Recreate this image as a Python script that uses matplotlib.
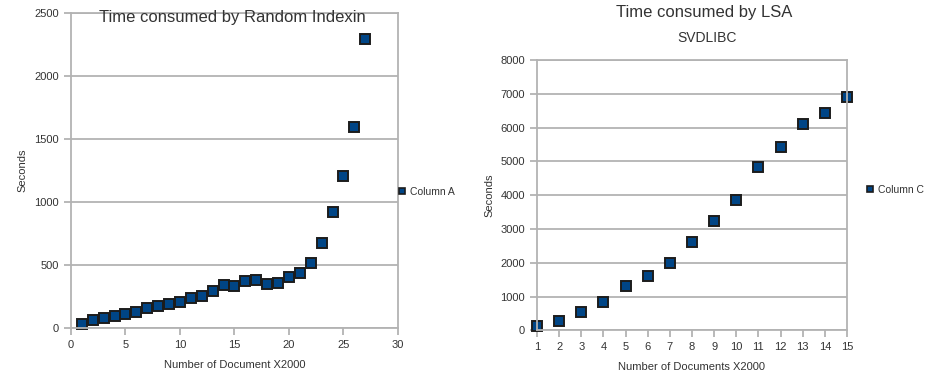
import matplotlib

matplotlib.use("Agg")
import matplotlib.pyplot as plt
from matplotlib.lines import Line2D

plt.rcParams["font.family"] = ["Liberation Sans", "DejaVu Sans"]

# Datos.
ri_docs = list(range(1, 28))
ri_secs = [29, 61, 77, 98, 114, 130, 156, 172, 190, 209, 235, 257, 294, 341,
           336, 373, 381, 352, 360, 405, 439, 513, 672, 918, 1206, 1593, 2291]

lsa_docs = list(range(1, 16))
lsa_secs = [138, 276, 552, 828, 1310, 1626, 2000, 2630, 3241, 3862, 4828,
            5438, 6108, 6433, 6916]

GRID = "#b3b3b3"
TEXT = "#333333"
FACE = "#004586"
EDGE = "#1c1c1c"


def style_axes(ax):
    for s in ax.spines.values():
        s.set_color(GRID)
        s.set_linewidth(1.3)
    ax.grid(axis="y", color=GRID, linewidth=1.3)
    ax.set_axisbelow(True)
    ax.tick_params(colors=GRID, labelcolor=TEXT, labelsize=8, length=5,
                   width=1.3, direction="out")


fig = plt.figure(figsize=(9.29, 3.78), dpi=100)

# 1. Random Indexing.
ax1 = fig.add_axes([0.0764, 0.1323, 0.352, 0.8333])
ax1.plot(ri_docs, ri_secs, "s", ms=7, mfc=FACE, mec=EDGE, mew=1.4,
         clip_on=False)
ax1.set_xlim(0, 30)
ax1.set_ylim(0, 2500)
ax1.set_xticks(range(0, 31, 5))
ax1.set_yticks(range(0, 2501, 500))
style_axes(ax1)
ax1.set_xlabel("Number of Document X2000", fontsize=8, color=TEXT, labelpad=7)
ax1.set_ylabel("Seconds", fontsize=8, color=TEXT, labelpad=5)
fig.text(232 / 929, 1 - 17.5 / 378, "Time consumed by Random Indexin",
         ha="center", va="center", fontsize=12, color=TEXT)

# 2. LSA (SVDLIBC).
ax2 = fig.add_axes([0.578, 0.1257, 0.3337, 0.7156])
ax2.plot(lsa_docs, lsa_secs, "s", ms=7, mfc=FACE, mec=EDGE, mew=1.4,
         clip_on=False)
ax2.set_xlim(1, 15)
ax2.set_ylim(0, 8000)
ax2.set_xticks(lsa_docs)
ax2.set_yticks(range(0, 8001, 1000))
style_axes(ax2)
ax2.set_xlabel("Number of Documents X2000", fontsize=8, color=TEXT, labelpad=7)
ax2.set_ylabel("Seconds", fontsize=8, color=TEXT, labelpad=4)
fig.text(704 / 929, 1 - 12 / 378, "Time consumed by LSA", ha="center",
         va="center", fontsize=12, color=TEXT)
fig.text(707 / 929, 1 - 38 / 378, "SVDLIBC", ha="center", va="center",
         fontsize=10, color=TEXT)

# Leyendas a la derecha de cada grafico.
for name, x, y in [("Column A", 398, 192), ("Column C", 866, 190)]:
    h = Line2D([], [], ls="none", marker="s", ms=5, mfc=FACE, mec=EDGE, mew=1.2)
    fig.legend([h], [name], loc="center left",
               bbox_to_anchor=(x / 929, 1 - y / 378),
               frameon=False, fontsize=7.5, labelcolor=TEXT, handlelength=0.8,
               handletextpad=0.4, borderaxespad=0, borderpad=0)

fig.savefig("out.png", dpi=100)
